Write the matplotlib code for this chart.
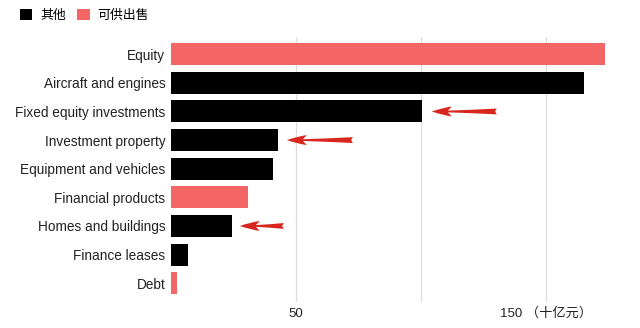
import matplotlib
matplotlib.use("Agg")
import matplotlib.pyplot as plt

plt.rcParams['font.family'] = ['Liberation Sans', 'Noto Sans CJK SC', 'DejaVu Sans']

categories = ["Equity", "Aircraft and engines", "Fixed equity investments",
              "Investment property", "Equipment and vehicles", "Financial products",
              "Homes and buildings", "Finance leases", "Debt"]
values = [173.6, 165.2, 100.4, 42.7, 41.0, 30.7, 24.5, 6.9, 2.4]
groups = ["可供出售", "其他", "其他", "其他", "其他", "可供出售", "其他", "其他", "可供出售"]
legend_order = ["其他", "可供出售"]
x_ticks = [50, 100, 150]
x_tick_labels = ["50", "", "150 （十亿元）"]
# highlighted items: (category, arrow tip value, arrow tail value)
highlights = [("Fixed equity investments", 104.4, 130.4),
              ("Investment property", 46.4, 72.8),
              ("Homes and buildings", 27.6, 45.2)]

colors = {"其他": "#000000", "可供出售": "#f46565"}

fig = plt.figure(figsize=(6.4, 3.28), dpi=100)
ax = fig.add_axes([0.267, 0.079, 0.703, 0.808])

ypos = list(range(len(categories)))
for g in legend_order:
    idx = [i for i, gg in enumerate(groups) if gg == g]
    ax.barh([ypos[i] for i in idx], [values[i] for i in idx], height=0.77,
            color=colors[g], label=g, zorder=2)

ax.set_ylim(8.66, -0.6)
ax.set_xlim(0, 180)
ax.set_yticks(ypos)
ax.set_yticklabels(categories, fontsize=9.8, color="#222222")
ax.set_xticks(x_ticks)
ax.set_xticklabels(x_tick_labels, fontsize=9.5, color="#222222")
ax.tick_params(axis="both", length=0)
ax.tick_params(axis="y", pad=4)
ax.tick_params(axis="x", pad=4)
for s in ax.spines.values():
    s.set_visible(False)
ax.grid(axis="x", color="#dddddd", linewidth=0.9, zorder=0)
ax.set_axisbelow(True)

for cat, tip, tail in highlights:
    y = categories.index(cat)
    ax.annotate("", xy=(tip, y), xytext=(tail, y),
                arrowprops=dict(arrowstyle="fancy,head_length=1.2,head_width=0.6,tail_width=0.35",
                                mutation_scale=12, color="#d8261e", lw=0,
                                shrinkA=0, shrinkB=0),
                zorder=3)

handles, labels = ax.get_legend_handles_labels()
fig.legend(handles, labels, loc="upper left", bbox_to_anchor=(0.017, 1.0),
           ncol=2, frameon=False, fontsize=9.3, handlelength=0.95, handleheight=0.95,
           handletextpad=0.6, columnspacing=0.9, borderaxespad=0.3)

fig.savefig("out.png", dpi=100)
